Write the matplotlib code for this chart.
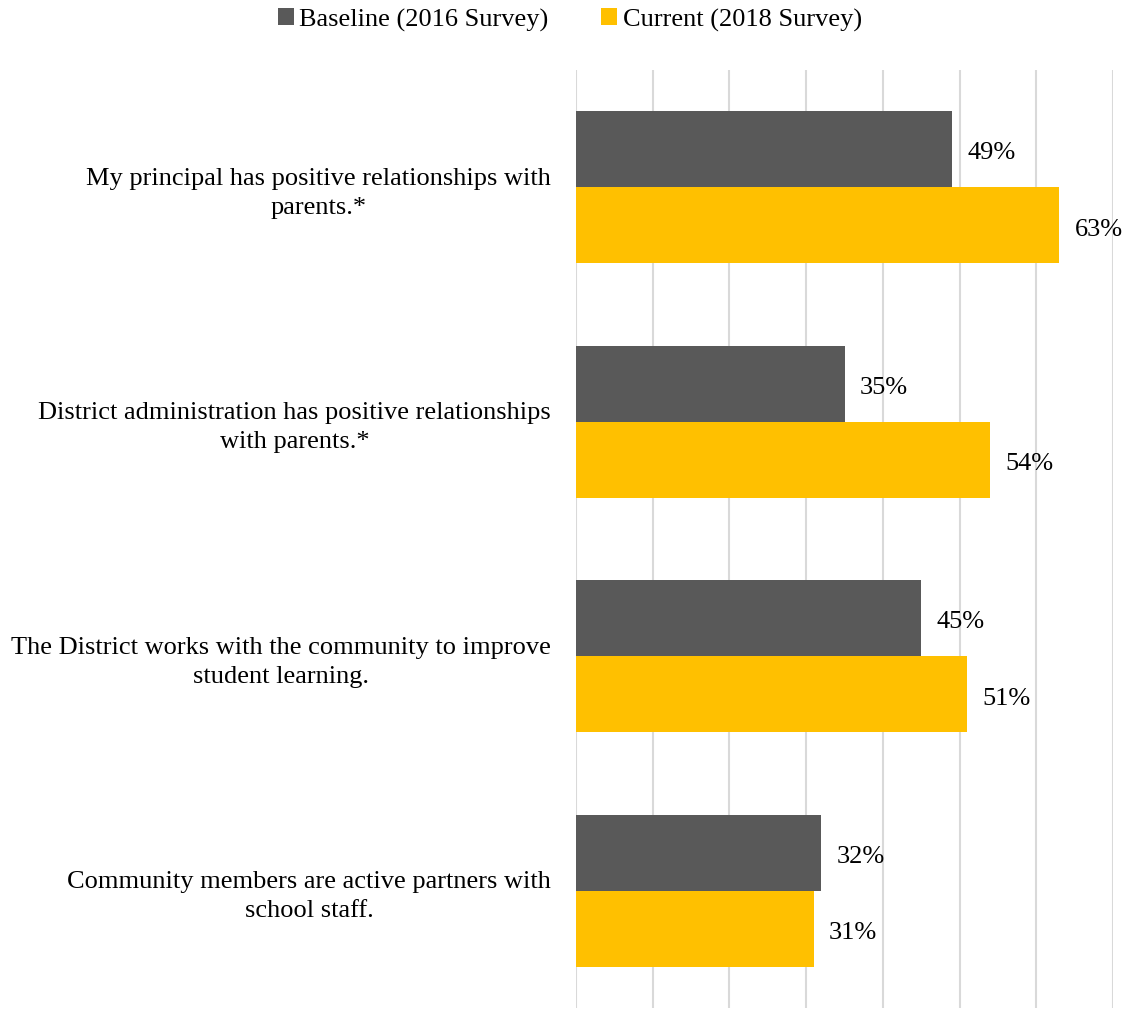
import matplotlib.pyplot as plt
import numpy as np

# Survey items and percent agreeing
categories = [
    "My principal has positive relationships with\nparents.*",
    "District administration has positive relationships\nwith parents.*",
    "The District works with the community to improve\nstudent learning.",
    "Community members are active partners with\nschool staff.",
]
baseline = [49, 35, 45, 32]
current = [63, 54, 51, 31]
series_names = ["Baseline (2016 Survey)", "Current (2018 Survey)"]

plt.rcParams['font.family'] = ['Liberation Serif', 'DejaVu Serif']
fs = 19

fig = plt.figure(figsize=(11.27, 10.09), dpi=100)
ax = fig.add_axes([576 / 1127, 1 - 1008 / 1009, (1113 - 576) / 1127, (1008 - 70) / 1009])

y = np.arange(len(categories))
h = 0.325
b1 = ax.barh(y - h / 2, baseline, height=h, color='#595959', label=series_names[0], zorder=3)
b2 = ax.barh(y + h / 2, current, height=h, color='#FFC000', label=series_names[1], zorder=3)

# value labels to the right of each bar
for bars, vals in [(b1, baseline), (b2, current)]:
    for bar, v in zip(bars, vals):
        ax.annotate(f"{v}%", (bar.get_width(), bar.get_y() + bar.get_height() / 2),
                    xytext=(11, -3), textcoords='offset points', va='center', ha='left',
                    fontsize=fs, color='#000000', clip_on=False)

ax.set_xlim(0, 70)
ax.set_ylim(3.5, -0.5)
ax.set_xticks(np.arange(0, 71, 10))
ax.set_xticklabels([])
ax.set_yticks(y)
ax.set_yticklabels(categories, fontsize=fs, ha='right', multialignment='center', linespacing=1.4)
ax.tick_params(axis='both', length=0)
ax.tick_params(axis='y', pad=18)
ax.grid(axis='x', color='#D9D9D9', linewidth=1.5, zorder=0)
for s in ax.spines.values():
    s.set_visible(False)

fig.legend(handles=[b1, b2], labels=series_names, loc='center', bbox_to_anchor=(570 / 1127, 1 - 20 / 1009),
           ncol=2, frameon=False, fontsize=fs, handlelength=0.6, handleheight=0.6,
           handletextpad=0.2, columnspacing=2.0)

fig.savefig('out.png', dpi=100)
